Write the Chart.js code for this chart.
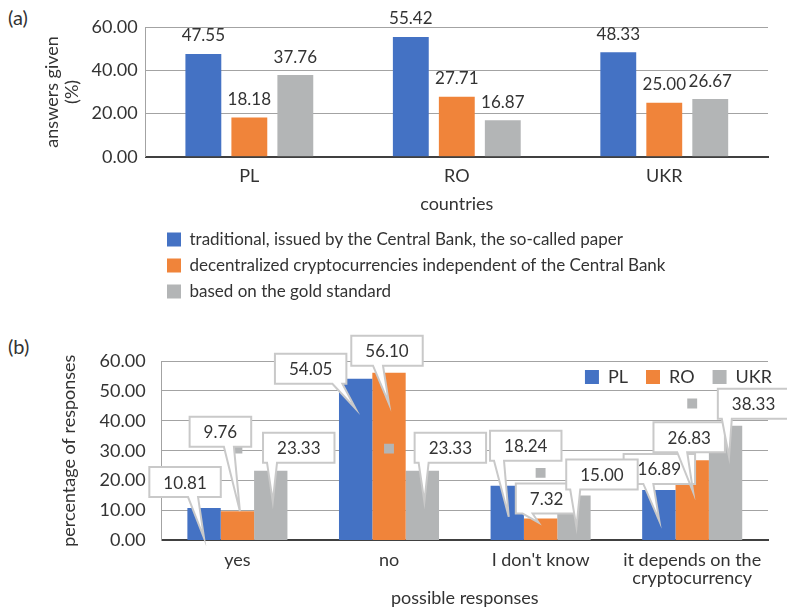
<!DOCTYPE html>
<html>
<head>
<meta charset="utf-8">
<script src="https://cdn.jsdelivr.net/npm/chart.js@4.4.1/dist/chart.umd.min.js"></script>
<style>
  html, body { margin: 0; padding: 0; background: #fff; }
  body { width: 787px; height: 613px; position: relative; overflow: hidden; font-family: Lato, "Open Sans", sans-serif; }
  .panel { position: absolute; left: 0; }
  .tag { position: absolute; left: 8px; font-size: 20px; color: #333; }
</style>
</head>
<body>
<div class="tag" style="top:5px">(a)</div>
<div class="tag" style="top:334px">(b)</div>
<canvas id="chartA" class="panel" style="top:0" width="787" height="310"></canvas>
<canvas id="chartB" class="panel" style="top:318px" width="787" height="295"></canvas>
<script>
// (a) preferred form of money, by country
var countries = ['PL', 'RO', 'UKR'];
var moneyTypes = [
  'traditional, issued by the Central Bank, the so-called paper',
  'decentralized cryptocurrencies independent of the Central Bank',
  'based on the gold standard'
];
var paperMoney = [47.55, 55.42, 48.33];
var cryptoMoney = [18.18, 27.71, 25.00];
var goldMoney = [37.76, 16.87, 26.67];

// (b) answers by response
var responses = ['yes', 'no', "I don't know", ['it depends on the', 'cryptocurrency']];
var responseCountries = ['PL', 'RO', 'UKR'];
var plAnswers = [10.81, 54.05, 18.24, 16.89];
var roAnswers = [9.76, 56.10, 7.32, 26.83];
var ukrAnswers = [23.33, 23.33, 15.00, 38.33];
var labelKeyMarks = [30.7, 30.7, 22.6, 45.8]; // stray grey label keys left in the original figure

var BLUE = '#4472C4';
var ORANGE = '#F0843A';
var GREY = '#B3B5B6';
var TEXT = '#333333';
var GRID = '#a3a3a3';
var FONT = 'Lato, "Open Sans", sans-serif';

Chart.defaults.font.family = FONT;
Chart.defaults.color = TEXT;

// value above each bar (panel a)
var valueLabels = {
  id: 'valueLabels',
  afterDatasetsDraw: function(chart, args, opts) {
    var ctx = chart.ctx;
    ctx.save();
    ctx.font = opts.size + 'px ' + FONT;
    ctx.fillStyle = TEXT;
    ctx.textAlign = 'center';
    ctx.textBaseline = 'middle';
    chart.data.datasets.forEach(function(ds, i) {
      chart.getDatasetMeta(i).data.forEach(function(bar, j) {
        ctx.fillText(ds.data[j].toFixed(2), bar.x, bar.y - opts.offset);
      });
    });
    ctx.restore();
  }
};

// speech-bubble labels (panel b)
var callouts = {
  id: 'callouts',
  afterDatasetsDraw: function(chart, args, opts) {
    var ctx = chart.ctx;
    ctx.save();
    ctx.font = opts.size + 'px ' + FONT;
    chart.data.datasets.forEach(function(ds, i) {
      var offs = opts.offsets[i];
      if (!offs) return;
      chart.getDatasetMeta(i).data.forEach(function(bar, j) {
        var o = offs[j];
        var text = ds.data[j].toFixed(2);
        var w = ctx.measureText(text).width + opts.padX * 2;
        var h = opts.height;
        var cx = bar.x + o[0], cy = bar.y + o[1];
        var tx = bar.x + o[2], ty = bar.y + o[3];
        var l = cx - w / 2, r = cx + w / 2, t = cy - h / 2, b = cy + h / 2;
        var b1 = Math.min(Math.max(tx - 16, l + 4), r - 14);
        var b2 = b1 + 10;
        ctx.beginPath();
        ctx.moveTo(l, t);
        ctx.lineTo(r, t);
        ctx.lineTo(r, b);
        ctx.lineTo(b2, b);
        ctx.lineTo(tx, ty);
        ctx.lineTo(b1, b);
        ctx.lineTo(l, b);
        ctx.closePath();
        ctx.fillStyle = '#fff';
        ctx.fill();
        ctx.strokeStyle = '#c9c9c9';
        ctx.lineWidth = 2;
        ctx.stroke();
        ctx.fillStyle = TEXT;
        ctx.textAlign = 'center';
        ctx.textBaseline = 'middle';
        ctx.fillText(text, cx, cy + 1);
      });
    });
    ctx.restore();
  }
};

// move the legend box after layout
var legendShift = {
  id: 'legendShift',
  afterLayout: function(chart, args, opts) {
    var lg = chart.legend;
    if (!lg) return;
    var dx = 0, dy = 0;
    if (opts.left !== undefined) dx = opts.left - lg.left;
    if (opts.right !== undefined) dx = opts.right - lg.right;
    if (opts.top !== undefined) dy = opts.top - lg.top;
    lg.left += dx; lg.right += dx;
    lg.top += dy; lg.bottom += dy;
  }
};

function gridColor(c) {
  return c.tick && c.tick.value === 0 ? 'rgba(0,0,0,0)' : GRID;
}

new Chart(document.getElementById('chartA'), {
  type: 'bar',
  data: {
    labels: countries,
    datasets: [
      { label: moneyTypes[0], data: paperMoney, backgroundColor: BLUE },
      { label: moneyTypes[1], data: cryptoMoney, backgroundColor: ORANGE },
      { label: moneyTypes[2], data: goldMoney, backgroundColor: GREY }
    ]
  },
  options: {
    responsive: false,
    animation: false,
    layout: { padding: { top: 27, left: 42, right: 19, bottom: 7 } },
    datasets: { bar: { categoryPercentage: 0.665, barPercentage: 0.78 } },
    scales: {
      x: {
        grid: { display: false, drawTicks: false },
        border: { color: '#404040', width: 2 },
        ticks: { font: { size: 18 }, padding: 9 },
        title: { display: true, text: 'countries', font: { size: 18 }, padding: { top: -3, bottom: 0 } }
      },
      y: {
        min: 0, max: 60,
        grid: { color: gridColor, drawTicks: false },
        border: { color: GRID },
        ticks: { stepSize: 20, padding: 8, font: { size: 18 }, callback: function(v) { return v.toFixed(2); } },
        title: { display: true, text: ['answers given', '(%)'], font: { size: 18, lineHeight: 1.1 }, padding: { top: 0, bottom: 2 } }
      }
    },
    plugins: {
      legend: {
        position: 'bottom',
        align: 'start',
        fullSize: false,
        labels: { boxWidth: 14, boxHeight: 14, padding: 9, font: { size: 17 }, color: TEXT }
      },
      tooltip: { enabled: false },
      valueLabels: { size: 17, offset: 18 },
      legendShift: { left: 158, top: 222 }
    }
  },
  plugins: [valueLabels, legendShift]
});

new Chart(document.getElementById('chartB'), {
  type: 'bar',
  data: {
    labels: responses,
    datasets: [
      { label: responseCountries[0], data: plAnswers, backgroundColor: BLUE, order: 1 },
      { label: responseCountries[1], data: roAnswers, backgroundColor: ORANGE, order: 1 },
      { label: responseCountries[2], data: ukrAnswers, backgroundColor: GREY, order: 1 },
      { type: 'line', label: 'key', data: labelKeyMarks, showLine: false, pointStyle: 'rect',
        pointRadius: 7, pointBackgroundColor: GREY, pointBorderWidth: 0, order: 0 }
    ]
  },
  options: {
    responsive: false,
    animation: false,
    layout: { padding: { top: -3, left: 58, right: 19, bottom: 2 } },
    datasets: { bar: { categoryPercentage: 0.66, barPercentage: 1.0 } },
    scales: {
      x: {
        grid: { display: false, drawTicks: false },
        border: { color: '#404040', width: 2 },
        ticks: { font: { size: 18, lineHeight: 1.0 }, padding: 11 },
        title: { display: true, text: 'possible responses', font: { size: 18 }, padding: { top: -11, bottom: 2 } }
      },
      y: {
        min: 0, max: 60,
        grid: { color: gridColor, drawTicks: false },
        border: { color: GRID },
        ticks: { stepSize: 10, padding: 16, font: { size: 18 }, callback: function(v) { return v.toFixed(2); } },
        title: { display: true, text: 'percentage of responses', font: { size: 18 }, padding: { top: 0, bottom: 4 } }
      }
    },
    plugins: {
      legend: {
        position: 'top',
        align: 'end',
        labels: {
          boxWidth: 14, boxHeight: 14, padding: 18, font: { size: 18 }, color: TEXT,
          filter: function(item) { return item.datasetIndex < 3; }
        }
      },
      tooltip: { enabled: false },
      legendShift: { right: 790, top: 32 },
      callouts: {
        size: 17, padX: 14, height: 30,
        // [box dx, box dy, tip dx, tip dy] relative to the top centre of each bar
        offsets: [
          [[-19, -26, 0, 30], [-45, -10, 0, 30], [18.5, -40, 1.5, 31], [0.5, -21, 0.5, 31]],
          [[-17, -79.5, 2.5, 0], [-2, -22, 0, 31], [6, -20, -2, 4], [-3, -23, 1, 32]],
          [[28, -23, 2, 31], [28, -23, 2, 31], [28, -21, 2.5, 31.5], [28, -22, 3.5, 31]]
        ]
      }
    }
  },
  plugins: [callouts, legendShift]
});
</script>
</body>
</html>
